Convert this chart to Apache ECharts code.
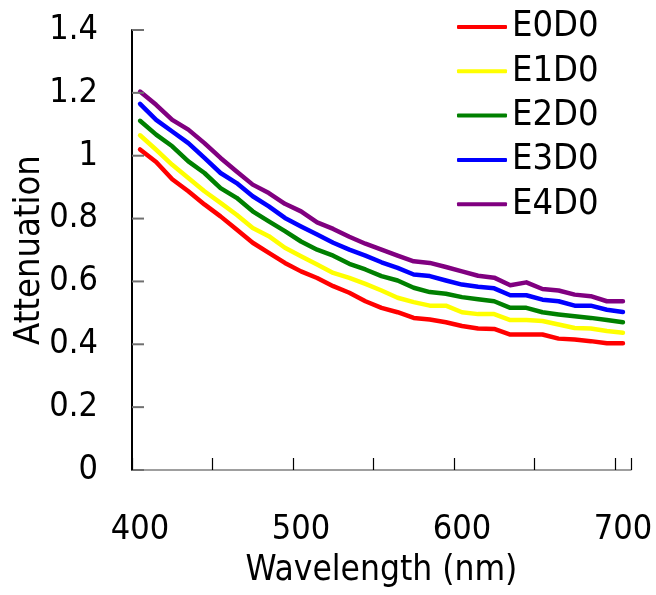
<!DOCTYPE html>
<html lang="en">
<head>
    <meta charset="utf-8">
    <title>Attenuation vs wavelength</title>
    <script src="https://cdn.jsdelivr.net/npm/echarts@6/dist/echarts.min.js"></script>
</head>
<body style="margin:0;background:#fff">
<div id="main" style="width:656px;height:595px"></div>
<script type="text/javascript">
    // wavelength categories (nm)
    var wavelength = ['400','410','420','430','440','450','460','470','480','490','500',
        '510','520','530','540','550','560','570','580','590','600',
        '610','620','630','640','650','660','670','680','690','700'];
    var names = ['E0D0', 'E1D0', 'E2D0', 'E3D0', 'E4D0'];
    var colors = ['#ff0000', '#ffff00', '#008000', '#0000ff', '#800080'];
    var e0d0 = [1.02,0.98,0.925,0.887,0.845,0.807,0.765,0.723,0.691,0.659,0.632,0.611,0.585,0.564,0.537,0.516,0.502,0.484,0.479,0.47,0.458,0.45,0.449,0.431,0.431,0.431,0.418,0.415,0.41,0.403,0.403];
    var e1d0 = [1.065,1.019,0.971,0.929,0.887,0.85,0.812,0.77,0.744,0.707,0.68,0.654,0.627,0.611,0.592,0.571,0.548,0.534,0.523,0.523,0.502,0.496,0.496,0.477,0.477,0.474,0.463,0.452,0.45,0.442,0.437];
    var e2d0 = [1.111,1.067,1.03,0.982,0.945,0.897,0.866,0.823,0.791,0.76,0.727,0.701,0.682,0.656,0.638,0.617,0.603,0.58,0.566,0.561,0.55,0.543,0.537,0.516,0.516,0.502,0.495,0.489,0.484,0.477,0.47];
    var e3d0 = [1.165,1.114,1.077,1.04,0.993,0.945,0.913,0.871,0.839,0.802,0.775,0.749,0.723,0.701,0.682,0.661,0.643,0.622,0.617,0.603,0.59,0.583,0.578,0.556,0.556,0.542,0.537,0.523,0.523,0.51,0.503];
    var e4d0 = [1.204,1.162,1.114,1.083,1.04,0.993,0.95,0.908,0.881,0.847,0.823,0.788,0.767,0.742,0.72,0.701,0.682,0.664,0.659,0.646,0.632,0.618,0.612,0.588,0.597,0.576,0.571,0.558,0.553,0.537,0.537];
    var values = [e0d0, e1d0, e2d0, e3d0, e4d0];
    // y tick values
    var yTicks = [0, 0.2, 0.4, 0.6, 0.8, 1, 1.2, 1.4];

    var font = "'DejaVu Sans Condensed', 'DejaVu Sans', sans-serif";
    var chart = echarts.init(document.getElementById('main'));

    var series = [];
    for (var i = 0; i < names.length; i++) {
        series.push({
            name: names[i],
            type: 'line',
            data: values[i],
            symbol: 'none',
            color: colors[i],
            lineStyle: {width: 4.5, color: colors[i], cap: 'round', join: 'round'}
        });
    }

    // y axis line and inside ticks, placed through the axis scale
    series.push({
        name: 'yticks',
        type: 'custom',
        clip: false,
        silent: true,
        z: 5,
        data: yTicks.map(function (v) { return [0, v]; }),
        renderItem: function (params, api) {
            var x0 = params.coordSys.x;
            var y = api.coord([0, api.value(1)])[1];
            var children = [{
                type: 'line',
                shape: {x1: x0, y1: y, x2: x0 + 12, y2: y},
                style: {stroke: '#707070', lineWidth: 2}
            }];
            if (params.dataIndex === 0) {
                children.push({
                    type: 'line',
                    shape: {x1: x0, y1: params.coordSys.y, x2: x0, y2: params.coordSys.y + params.coordSys.height},
                    style: {stroke: '#000000', lineWidth: 2}
                });
            }
            return {type: 'group', children: children};
        }
    });

    chart.setOption({
        animation: false,
        legend: {
            orient: 'vertical',
            left: 452,
            top: 4,
            icon: 'roundRect',
            itemWidth: 50,
            itemHeight: 4,
            itemGap: 8.3,
            data: names,
            textStyle: {fontFamily: font, fontSize: 36, color: '#000', lineHeight: 36}
        },
        grid: {left: 132, right: 25, top: 30, bottom: 125, outerBoundsMode: 'none'},
        xAxis: {
            type: 'category',
            data: wavelength,
            boundaryGap: true,
            name: 'Wavelength (nm)',
            nameLocation: 'middle',
            nameGap: 83,
            nameMoveOverlap: false,
            nameTextStyle: {fontFamily: font, fontSize: 35, color: '#000'},
            axisLine: {show: true, lineStyle: {color: '#808080', width: 1.5}},
            axisTick: {show: true, inside: true, length: 12, interval: 4, lineStyle: {color: '#000000', width: 1.2}},
            axisLabel: {interval: 9, margin: 43, fontFamily: font, fontSize: 34, color: '#000'},
            splitLine: {show: false}
        },
        yAxis: {
            type: 'value',
            min: 0,
            max: 1.4,
            interval: 0.2,
            name: 'Attenuation',
            nameLocation: 'middle',
            nameRotate: 90,
            nameGap: 84,
            nameMoveOverlap: false,
            nameTextStyle: {fontFamily: font, fontSize: 36, color: '#000'},
            axisLine: {show: true, lineStyle: {color: '#000000', width: 2}},
            axisTick: {show: false},
            axisLabel: {margin: 34, fontFamily: font, fontSize: 34, color: '#000'},
            splitLine: {show: false}
        },
        series: series
    });
</script>
</body>
</html>
